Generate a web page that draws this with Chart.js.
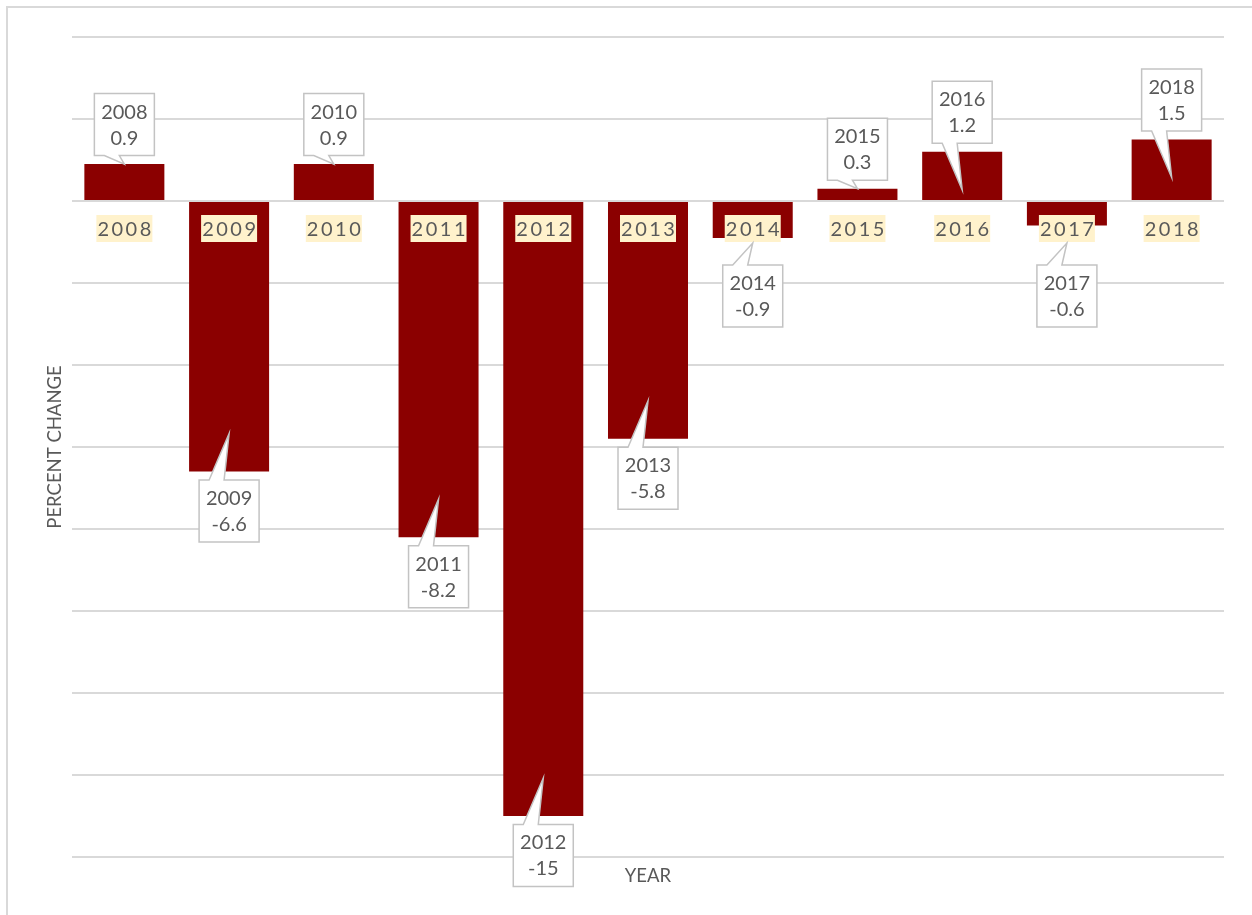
<!DOCTYPE html>
<html>
<head>
<meta charset="utf-8">
<script src="https://cdn.jsdelivr.net/npm/chart.js@4.4.1/dist/chart.umd.min.js"></script>
<style>
  html, body { margin: 0; padding: 0; background: #fff; overflow: hidden; }
  #frame { position: absolute; left: 6px; top: 6px; width: 1300px; height: 1000px; border: 2px solid #d9d9d9; }
  #chart { position: absolute; left: 0; top: 0; }
</style>
</head>
<body>
<div id="frame"></div>
<canvas id="chart" width="1252" height="915"></canvas>
<script>
const years = ['2008', '2009', '2010', '2011', '2012', '2013', '2014', '2015', '2016', '2017', '2018'];
const changes = [0.9, -6.6, 0.9, -8.2, -15, -5.8, -0.9, 0.3, 1.2, -0.6, 1.5];
const yMin = -16, yMax = 4, yStep = 2;

const textColor = '#595959';
const gridColor = '#d9d9d9';
const barColor = '#8b0000';
const fontName = 'Lato, "Noto Sans", sans-serif';

// year labels sitting on the zero line, plus the Excel style callouts
const annotate = {
  id: 'annotate',
  afterDatasetsDraw(chart) {
    const ctx = chart.ctx;
    const area = chart.chartArea;
    const xs = chart.scales.x;
    const zeroY = chart.scales.y.getPixelForValue(0);
    ctx.save();

    // zero line stays visible over the bars
    ctx.strokeStyle = gridColor;
    ctx.lineWidth = 2;
    ctx.beginPath();
    ctx.moveTo(area.left, zeroY);
    ctx.lineTo(area.right, zeroY);
    ctx.stroke();

    // category labels
    ctx.font = '20px ' + fontName;
    ctx.letterSpacing = '2.5px';
    ctx.textBaseline = 'middle';
    ctx.textAlign = 'left';
    years.forEach((yr, i) => {
      const cx = xs.getPixelForValue(i);
      const w = ctx.measureText(yr).width - 2.5;
      ctx.fillStyle = '#fff2cc';
      ctx.fillRect(cx - 28, zeroY + 14, 56, 27);
      ctx.fillStyle = textColor;
      ctx.fillText(yr, cx - w / 2, zeroY + 28.5);
    });
    ctx.letterSpacing = '0px';

    // callouts
    const boxW = 60, boxH = 62;
    const labelBottom = zeroY + 41;
    const meta = chart.getDatasetMeta(0);
    meta.data.forEach((bar, i) => {
      const v = changes[i];
      const len = Math.abs(bar.y - bar.base);
      const inset = len > 45 ? 38 : 0;
      let tipY, boxTop, above;
      if (v >= 0) {
        above = true;
        tipY = bar.y + inset;
        boxTop = bar.y - 8.5 - boxH;
      } else if (bar.y < labelBottom) {
        above = false;
        tipY = labelBottom + 1;
        boxTop = tipY + 22;
      } else {
        above = false;
        tipY = bar.y - inset;
        boxTop = bar.y + 8.5;
      }
      const left = bar.x - boxW / 2, right = left + boxW, bottom = boxTop + boxH;
      ctx.beginPath();
      if (above) {
        ctx.moveTo(left, boxTop);
        ctx.lineTo(right, boxTop);
        ctx.lineTo(right, bottom);
        ctx.lineTo(left + 25, bottom);
        ctx.lineTo(bar.x, tipY);
        ctx.lineTo(left + 10, bottom);
        ctx.lineTo(left, bottom);
      } else {
        ctx.moveTo(left, boxTop);
        ctx.lineTo(left + 10, boxTop);
        ctx.lineTo(bar.x, tipY);
        ctx.lineTo(left + 25, boxTop);
        ctx.lineTo(right, boxTop);
        ctx.lineTo(right, bottom);
        ctx.lineTo(left, bottom);
      }
      ctx.closePath();
      ctx.fillStyle = '#ffffff';
      ctx.fill();
      ctx.strokeStyle = '#c3c3c3';
      ctx.lineWidth = 1.5;
      ctx.stroke();

      ctx.fillStyle = textColor;
      ctx.font = '20px ' + fontName;
      ctx.textAlign = 'center';
      ctx.textBaseline = 'middle';
      const mid = boxTop + boxH / 2;
      ctx.fillText(years[i], bar.x, mid - 12.5);
      ctx.fillText(String(v), bar.x, mid + 13.5);
    });
    ctx.restore();
  }
};

new Chart(document.getElementById('chart'), {
  type: 'bar',
  data: {
    labels: years,
    datasets: [{
      data: changes,
      backgroundColor: barColor,
      borderWidth: 0,
      barPercentage: 0.764,
      categoryPercentage: 1
    }]
  },
  options: {
    responsive: false,
    animation: false,
    events: [],
    layout: { padding: { left: 0, top: 37, right: 28, bottom: 0 } },
    plugins: { legend: { display: false }, tooltip: { enabled: false } },
    scales: {
      x: {
        grid: { display: false },
        border: { display: false },
        ticks: { display: false },
        title: {
          display: true, text: 'YEAR', color: textColor,
          font: { family: fontName, size: 18.5 },
          padding: { top: 0, bottom: 28 }
        },
        afterFit: (scale) => { scale.height = 58; }
      },
      y: {
        min: yMin,
        max: yMax,
        ticks: { display: false, stepSize: yStep },
        grid: { color: gridColor, lineWidth: 2, drawTicks: false },
        border: { display: false },
        title: {
          display: true, text: 'PERCENT CHANGE', color: textColor,
          font: { family: fontName, size: 18.5 },
          padding: { top: 44, bottom: 0 }
        },
        afterFit: (scale) => { scale.width = 72; }
      }
    }
  },
  plugins: [annotate]
});
</script>
</body>
</html>
